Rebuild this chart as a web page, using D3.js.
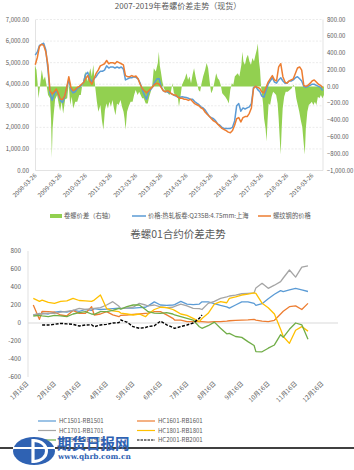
<!DOCTYPE html>
<html>
<head>
<meta charset="utf-8">
<script src="https://cdn.jsdelivr.net/npm/d3@7"></script>
<style>
  body { margin: 0; background: #fff; }
  svg { display: block; font-family: "Noto Sans CJK SC", "Noto Sans", sans-serif; }
</style>
</head>
<body>
<div id="chart"></div>
<script>
// ---- top chart data (spot, monthly) ----
var hrcPrice = [
  5350, 5500, 5800, 5850, 5900, 5600, 4700, 3600, 3250, 3550,             // 2008 Mar-Dec
  3700, 3500, 3250, 3150, 3400, 3850, 4200, 3750, 3600, 3650, 3800, 3850, // 2009
  3950, 4100, 4450, 4550, 4250, 4100, 4250, 4350, 4500, 4600, 4600, 4650, // 2010
  4850, 4750, 4800, 4800, 4750, 4800, 4750, 4800, 4700, 4200, 4250, 4300, // 2011
  4300, 4350, 4320, 4250, 4050, 3750, 3500, 3300, 3650, 3750, 3880, 4100, // 2012
  4250, 4250, 3900, 3700, 3650, 3650, 3600, 3550, 3500, 3450, 3400, 3400, // 2013
  3420, 3400, 3380, 3350, 3300, 3300, 3200, 3120, 3050, 2950, 2900, 2800, // 2014
  2650, 2500, 2450, 2400, 2300, 2150, 2100, 2000, 1950, 1950, 1950, 1950, // 2015
  2000, 2300, 3000, 3100, 2750, 2900, 2850, 2900, 2950, 3100, 3850, 3900, // 2016
  3750, 3650, 3450, 3400, 3700, 4000, 4150, 4300, 4100, 4050, 4200, 4300, // 2017
  4150, 4050, 4050, 4150, 4150, 4200, 4300, 4350, 4250, 4150, 3900, 3850, // 2018
  3900, 3950, 4000, 4000, 3950, 3900, 3850, 3700                          // 2019 Jan-Aug
];
var rebarPrice = [
  4900, 5250, 5750, 5850, 5800, 5500, 4900, 3700, 3550, 3650,
  3780, 3550, 3300, 3300, 3450, 3850, 4350, 3850, 3700, 3750, 3850, 3900,
  4000, 4080, 4250, 4400, 4150, 4000, 4250, 4500, 4650, 4850, 4900, 4950,
  5100, 4950, 5000, 5000, 4950, 5050, 5000, 4950, 4900, 4400, 4350, 4350,
  4400, 4350, 4380, 4250, 4000, 3800, 3700, 3600, 3700, 3800, 3900, 4000,
  4050, 4000, 3850, 3700, 3650, 3700, 3650, 3550, 3500, 3500, 3400, 3350,
  3350, 3300, 3300, 3250, 3300, 3200, 3100, 3050, 3000, 2900, 2850, 2700,
  2600, 2500, 2400, 2300, 2250, 2150, 2050, 1950, 1900, 1850, 1780, 1750,
  1850, 2100, 2400, 2450, 2250, 2450, 2500, 2500, 2650, 2900, 3800, 3900,
  3850, 3800, 3650, 3600, 3850, 4100, 4250, 4400, 4200, 4150, 4800, 4950,
  4350, 4100, 4050, 4150, 4200, 4250, 4500, 4750, 4800, 4650, 3950, 3900,
  3950, 4050, 4150, 4200, 4100, 4000, 3950, 3850
];
// spread (right axis), decimal years
var spreadYears = [
  2008.19, 2008.25, 2008.29, 2008.33, 2008.39, 2008.46, 2008.53, 2008.59, 2008.65, 2008.71,
  2008.79, 2008.83, 2008.86, 2008.89, 2008.93, 2008.99, 2009.07, 2009.13, 2009.19, 2009.25,
  2009.31, 2009.39, 2009.47, 2009.53, 2009.59, 2009.65, 2009.71, 2009.79, 2009.87, 2009.95,
  2010.01, 2010.07, 2010.13, 2010.19, 2010.27, 2010.33, 2010.39, 2010.45, 2010.51, 2010.55,
  2010.59, 2010.65, 2010.71, 2010.79, 2010.85, 2010.91, 2010.97, 2011.03, 2011.09, 2011.15,
  2011.21, 2011.27, 2011.33, 2011.39, 2011.45, 2011.51, 2011.59, 2011.65, 2011.71, 2011.75,
  2011.79, 2011.85, 2011.91, 2011.99, 2012.07, 2012.13, 2012.19, 2012.27, 2012.33, 2012.39,
  2012.45, 2012.51, 2012.59, 2012.67, 2012.73, 2012.79, 2012.85, 2012.91, 2012.99, 2013.07,
  2013.11, 2013.15, 2013.19, 2013.25, 2013.31, 2013.39, 2013.47, 2013.53, 2013.59, 2013.65,
  2013.71, 2013.79, 2013.87, 2013.91, 2013.97, 2014.03, 2014.09, 2014.15, 2014.21, 2014.27,
  2014.33, 2014.39, 2014.45, 2014.51, 2014.57, 2014.63, 2014.69, 2014.75, 2014.81, 2014.87,
  2014.95, 2015.01, 2015.07, 2015.13, 2015.19, 2015.25, 2015.31, 2015.39, 2015.45, 2015.51,
  2015.57, 2015.63, 2015.69, 2015.75, 2015.83, 2015.89, 2015.95, 2016.01, 2016.07, 2016.13,
  2016.19, 2016.25, 2016.31, 2016.39, 2016.43, 2016.47, 2016.53, 2016.59, 2016.65, 2016.71,
  2016.77, 2016.83, 2016.89, 2016.95, 2017.01, 2017.04, 2017.09, 2017.13, 2017.17, 2017.21,
  2017.25, 2017.29, 2017.35, 2017.39, 2017.43, 2017.47, 2017.53, 2017.59, 2017.65, 2017.71,
  2017.77, 2017.83, 2017.87, 2017.91, 2017.95, 2017.99, 2018.03, 2018.09, 2018.15, 2018.23,
  2018.31, 2018.39, 2018.45, 2018.51, 2018.57, 2018.63, 2018.69, 2018.75, 2018.81, 2018.87,
  2018.91, 2018.95, 2019.01, 2019.07, 2019.13, 2019.19, 2019.25, 2019.31, 2019.37, 2019.43,
  2019.49, 2019.55, 2019.61, 2019.67
];
var spreadValues = [
  250, 200, 60, -140, 0, 200, 80, 120, 20, -100,
  -140, -400, -850, -500, -340, -150, -100, -200, -290, -180,
  -320, -150, -140, 40, -220, -120, -260, -180, -180, -100,
  -100, 20, 100, 180, 60, 140, 220, 120, 260, 100,
  -20, -180, -300, -220, -400, -515, -280, -200, -260, -180,
  -240, -160, -260, -340, -200, -220, -160, -240, -300, -380,
  -515, -300, -240, -180, -180, -100, -40, -100, -60, -100,
  -140, -140, -200, -200, -120, -60, 20, 220, 180, 280,
  415, 250, 180, 60, -20, -60, -80, -100, -60, 40,
  -80, -100, -140, -240, -120, 20, 60, 100, 160, 80,
  120, 40, 140, 220, 120, 40, -40, -60, 40, 120,
  200, 280, 220, 60, -80, -40, 40, 160, 100, 80,
  20, -80, -100, -120, -160, -200, -40, 40, 20, 120,
  140, 160, 120, 260, 415, 300, 260, 340, 380, 300,
  260, 340, 300, 380, 450, 515, 300, 200, 0, -100,
  -200, -380, -500, -655, -400, -200, -220, -120, -60, -80,
  -100, -200, -380, -600, -810, -500, -260, -120, -60, -60,
  -40, -20, 20, 0, -140, -220, -300, -400, -480, -690,
  -810, -500, -300, -220, -200, -180, -220, -180, -220, -120,
  -140, -100, -140, -100
];
var topTickYears = [2008, 2009, 2010, 2011, 2012, 2013, 2014, 2015, 2016, 2017, 2018, 2019];

// ---- bottom chart data (01 contracts, weekly from 1月16日) ----
var contractNames = ["HC1501-RB1501", "HC1601-RB1601", "HC1701-RB1701", "HC1801-RB1801", "HC1901-RB1901", "HC2001-RB2001"];
var hc1501 = [90, 100, 110, 100, 120, 130, 120, 140, 130, 150, 140, 160, 150, 155, 160, 165, 160, 165, 165, 170,
  175, 190, 235, 200, 195, 200, 205, 240, 210, 205, 210, 235, 235, 215, 195, 180, 165, 200, 235, 235,
  218, 195, 215, 270, 320, 360, 348, 367, 385, 367, 350];
var hc1601 = [200, 40, 130, 126, 120, 89, 80, 140, 107, 107, 181, 89, 100, 126, 90, 70, 85, 89, 95, 100,
  107, 110, 126, 126, 90, 52, 33, 33, 15, 15, 15, 15, 10, 15, 15, 20, 25, 30, 33, 35,
  40, 33, 20, 15, 30, 100, 130, 181, 190, 150, 218];
var hc1701 = [89, 107, 100, 110, 107, 120, 130, 140, 163, 150, 160, 163, 170, 200, 237, 185, 163, 165, 175, 218,
  200, 190, 200, 180, 170, 175, 185, 210, 190, 163, 160, 150, 218, 240, 274, 290, 300, 310, 325, 330,
  335, 390, 441, 385, 420, 459, 500, 589, 510, 620, 635];
var hc1801 = [274, 240, 255, 230, 218, 240, 245, 274, 250, 245, 240, 255, 311, 160, 135, 126, 110, 100, 89, 100,
  70, 100, 150, 175, 170, 150, 140, 100, 85, 52, 15, 50, 107, 210, 237, 225, 274, 290, 311, 322,
  335, 330, 220, 170, 100, -70, -150, -226, -80, -40, -90];
var hc1901 = [78, 85, 80, 70, 85, 80, 70, 100, 115, 126, 100, 95, 126, 126, 140, 163, 155, 181, 200, 200,
  150, 126, 110, 107, 115, 100, 89, 70, 52, 33, -41, -59, -30, 10, -59, -120, -115, -150, -160, -207,
  -250, -318, -320, -280, -244, -130, -160, -70, 0, -20, -180];
var hc2001 = [null, null, -22, -22, -15, -4, -10, -15, -33, -22, -20, -41, -22, -15, 0, 4, 33, 10, -41, -59,
  -50, -40, -30, 20, -20, -50, -59, -40, -22, 0, 52, 89, null, null, null, null, null, null, null, null,
  null, null, null, null, null, null, null, null, null, null, null];
var monthTicks = [1, 2, 3, 4, 5, 6, 7, 8, 9, 10, 11, 12];

var W = 354, H = 470;
var grey = "#595959";
var svg = d3.select("#chart").append("svg").attr("width", W).attr("height", H);

function decYear(t) {
  var y = Math.floor(t);
  var start = new Date(y, 0, 1), end = new Date(y + 1, 0, 1);
  return new Date(+start + (t - y) * (end - start));
}

// ================= top chart =================
var xT = d3.scaleTime().domain([new Date(2008, 2, 26), new Date(2019, 7, 20)]).range([36, 323]);
var yL = d3.scaleLinear().domain([0, 7000]).range([170.5, 19.5]);
var yR = d3.scaleLinear().domain([-1000, 800]).range([170.5, 19.5]);

svg.append("text").attr("x", 178).attr("y", 9).attr("text-anchor", "middle")
  .attr("font-size", 8).attr("fill", grey).text("2007-2019年卷螺价差走势（现货）");

var gTop = svg.append("g");
gTop.selectAll(".grid").data(yL.ticks(7).slice(1)).enter().append("line")
  .attr("x1", 36).attr("x2", 323)
  .attr("y1", function (d) { return yL(d); }).attr("y2", function (d) { return yL(d); })
  .attr("stroke", "#e3e3e3").attr("stroke-width", 0.7).attr("stroke-dasharray", "2,1.5");
gTop.append("path").attr("d", "M35.5,19.5V170.5H323V19.5").attr("fill", "none")
  .attr("stroke", "#dcdcdc").attr("stroke-width", 0.8);

var months = d3.timeMonth.range(new Date(2008, 2, 1), new Date(2019, 8, 1)).map(function (d) {
  return new Date(d.getFullYear(), d.getMonth(), 15);
});
var spread = spreadYears.map(function (t, i) { return { date: decYear(t), v: spreadValues[i] }; });

gTop.append("path").datum(spread)
  .attr("fill", "#92D050")
  .attr("d", d3.area().x(function (d) { return xT(d.date); })
    .y0(yR(0)).y1(function (d) { return yR(d.v); }));

var lineT = d3.line().x(function (d, i) { return xT(months[i]); }).y(function (d) { return yL(d); });
gTop.append("path").datum(hrcPrice).attr("fill", "none").attr("stroke", "#5B9BD5")
  .attr("stroke-width", 1.5).attr("stroke-linejoin", "round").attr("d", lineT);
gTop.append("path").datum(rebarPrice).attr("fill", "none").attr("stroke", "#ED7D31")
  .attr("stroke-width", 1.5).attr("stroke-linejoin", "round").attr("d", lineT);

// axes labels
gTop.selectAll(".yl").data(yL.ticks(7)).enter().append("text")
  .attr("x", 29).attr("y", function (d) { return yL(d) + 2; })
  .attr("text-anchor", "end").attr("font-size", 6).attr("fill", grey)
  .text(d3.format(",.2f"));
gTop.selectAll(".yr").data(d3.range(-1000, 801, 200)).enter().append("text")
  .attr("x", 327).attr("y", function (d) { return yR(d) + 2; })
  .attr("font-size", 6).attr("fill", grey)
  .text(d3.format(",.2f"))
  .each(function () {
    var b = this.getBBox();
    if (b.x + b.width > W) d3.select(this).attr("x", W - b.width);
  });
var fmtDay = d3.timeFormat("%Y-%m-%d");
gTop.selectAll(".xl").data(topTickYears.map(function (y) { return new Date(y, 2, 26); })).enter()
  .append("text")
  .attr("transform", function (d) { return "translate(" + (xT(d) + 1) + ",176) rotate(-45)"; })
  .attr("text-anchor", "end").attr("font-size", 6).attr("fill", grey)
  .text(fmtDay);

// legend
var lg = svg.append("g").attr("font-size", 6.3).attr("fill", grey);
lg.append("rect").attr("x", 50).attr("y", 214).attr("width", 12).attr("height", 4).attr("fill", "#92D050");
lg.append("text").attr("x", 64).attr("y", 218.3).text("卷螺价差（右轴）");
lg.append("line").attr("x1", 132).attr("x2", 146).attr("y1", 216).attr("y2", 216)
  .attr("stroke", "#5B9BD5").attr("stroke-width", 1.5);
lg.append("text").attr("x", 148).attr("y", 218.3).text("价格:热轧板卷:Q235B:4.75mm:上海");
lg.append("line").attr("x1", 258).attr("x2", 271).attr("y1", 216).attr("y2", 216)
  .attr("stroke", "#ED7D31").attr("stroke-width", 1.5);
lg.append("text").attr("x", 273).attr("y", 218.3).text("螺纹钢的价格");

// ================= bottom chart =================
var xB = d3.scaleTime().domain([new Date(2019, 0, 16), new Date(2019, 11, 16)]).range([28, 323]);
var yB = d3.scaleLinear().domain([-600, 800]).range([377, 251]);
var weeks = d3.timeDay.every(7).range(new Date(2019, 0, 16), new Date(2020, 0, 3));

svg.append("text").attr("x", 178).attr("y", 238).attr("text-anchor", "middle")
  .attr("font-size", 10.5).attr("fill", grey).text("卷螺01合约价差走势");

var gBot = svg.append("g");
gBot.append("line").attr("x1", 28).attr("x2", 28).attr("y1", 251).attr("y2", 377)
  .attr("stroke", "#d9d9d9").attr("stroke-width", 0.8);
gBot.append("line").attr("x1", 28).attr("x2", 338).attr("y1", yB(0)).attr("y2", yB(0))
  .attr("stroke", "#d9d9d9").attr("stroke-width", 1.2);

gBot.selectAll(".yb").data(yB.ticks(7)).enter().append("text")
  .attr("x", 21).attr("y", function (d) { return yB(d) + 2.2; })
  .attr("text-anchor", "end").attr("font-size", 6.3).attr("fill", grey)
  .text(function (d) { return d; });
gBot.selectAll(".xb").data(monthTicks).enter().append("text")
  .attr("transform", function (m) { return "translate(" + (xB(new Date(2019, m - 1, 16)) + 1) + ",384) rotate(-45)"; })
  .attr("text-anchor", "end").attr("font-size", 6.3).attr("fill", grey)
  .text(function (m) { return m + "月16日"; });

var series = [hc1501, hc1601, hc1701, hc1801, hc1901, hc2001];
var colors = ["#5B9BD5", "#ED7D31", "#A5A5A5", "#FFC000", "#70AD47", "#000000"];
var lineB = d3.line().defined(function (d) { return d != null; })
  .x(function (d, i) { return xB(weeks[i]); }).y(function (d) { return yB(d); });
series.forEach(function (s, k) {
  gBot.append("path").datum(s).attr("fill", "none").attr("stroke", colors[k])
    .attr("stroke-width", k === 5 ? 1.4 : 1.3).attr("stroke-linejoin", "round")
    .attr("stroke-dasharray", k === 5 ? "3,1.5" : null)
    .attr("d", lineB);
});

// legend (two columns)
var lb = svg.append("g").attr("font-size", 6).attr("fill", grey);
contractNames.forEach(function (name, k) {
  var col = k % 2, row = Math.floor(k / 2);
  var x0 = col ? 137 : 38, y0 = 421 + row * 9.5;
  lb.append("line").attr("x1", x0).attr("x2", x0 + 18).attr("y1", y0).attr("y2", y0)
    .attr("stroke", colors[k]).attr("stroke-width", 1.2)
    .attr("stroke-dasharray", k === 5 ? "2.5,1" : null);
  lb.append("text").attr("x", x0 + 21).attr("y", y0 + 2.2).text(name);
});

// ================= footer / logo =================
svg.append("line").attr("x1", 0).attr("x2", W).attr("y1", 448).attr("y2", 448)
  .attr("stroke", "#000").attr("stroke-width", 1.3);
var logo = svg.append("g");
logo.append("ellipse").attr("cx", 34).attr("cy", 451).attr("rx", 21).attr("ry", 14).attr("fill", "#2f62b3");
logo.append("line").attr("x1", 13).attr("x2", 55).attr("y1", 448).attr("y2", 448)
  .attr("stroke", "#fff").attr("stroke-width", 2.2);
logo.append("path").attr("d", "M33,439V463").attr("stroke", "#fff").attr("stroke-width", 3.2);
logo.append("path").attr("d", "M33,440.5C51,440.5 51,461.5 33,461.5")
  .attr("fill", "none").attr("stroke", "#fff").attr("stroke-width", 3);
logo.append("text").attr("x", 57).attr("y", 449).attr("font-size", 14.5).attr("font-weight", "bold")
  .attr("fill", "#2f62b3").attr("font-family", "'Noto Sans CJK SC', serif").text("期货日报网");
logo.append("text").attr("x", 58).attr("y", 458.5).attr("font-size", 7.4).attr("font-weight", "bold")
  .attr("fill", "#2f62b3").attr("font-family", "'DejaVu Serif', serif").text("www.qhrb.com.cn");
</script>
</body>
</html>
